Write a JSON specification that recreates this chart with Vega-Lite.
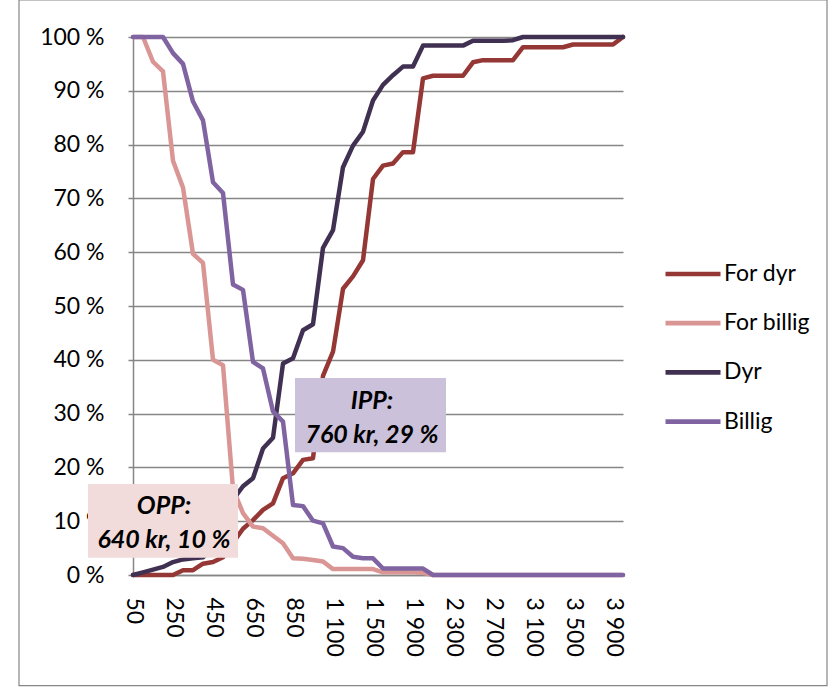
{
  "$schema": "https://vega.github.io/schema/vega-lite/v6.json",
  "width": 490,
  "height": 538,
  "autosize": {"type": "none"},
  "padding": {"left": 133, "top": 37, "right": 206, "bottom": 113},
  "background": "white",
  "config": {"view": {"stroke": null}, "font": "Lato"},
  "resolve": {"scale": {"x": "independent"}},
  "layer": [
    {
      "data": {"values": [{"ramme": "diagramomraade"}]},
      "mark": {"type": "rect", "fill": "transparent", "stroke": "#868686", "strokeWidth": 1.2},
      "encoding": {
        "x": {"datum": -11.4, "type": "quantitative", "scale": {"domain": [0, 49], "nice": false, "zero": false}, "axis": null},
        "x2": {"datum": 69.4},
        "y": {"datum": -20.55, "type": "quantitative", "title": null},
        "y2": {"datum": 106.9}
      }
    },
    {
      "data": {"values": [
        {"pris": "50", "For dyr": 0, "For billig": 100, "Dyr": 0, "Billig": 100},
        {"pris": "100", "For dyr": 0, "For billig": 100, "Dyr": 0.5, "Billig": 100},
        {"pris": "150", "For dyr": 0, "For billig": 95.4, "Dyr": 1.0, "Billig": 100},
        {"pris": "200", "For dyr": 0, "For billig": 93.6, "Dyr": 1.5, "Billig": 100},
        {"pris": "250", "For dyr": 0, "For billig": 77, "Dyr": 2.4, "Billig": 97},
        {"pris": "300", "For dyr": 0.9, "For billig": 72, "Dyr": 2.9, "Billig": 95},
        {"pris": "350", "For dyr": 0.9, "For billig": 59.7, "Dyr": 3.1, "Billig": 88},
        {"pris": "400", "For dyr": 2.1, "For billig": 58, "Dyr": 3.3, "Billig": 84.5},
        {"pris": "450", "For dyr": 2.4, "For billig": 40, "Dyr": 5, "Billig": 73},
        {"pris": "500", "For dyr": 3.3, "For billig": 39, "Dyr": 9, "Billig": 71},
        {"pris": "550", "For dyr": 6, "For billig": 16, "Dyr": 14, "Billig": 54},
        {"pris": "600", "For dyr": 8.6, "For billig": 11.5, "Dyr": 16.5, "Billig": 53},
        {"pris": "650", "For dyr": 10.2, "For billig": 9, "Dyr": 18, "Billig": 39.6},
        {"pris": "700", "For dyr": 12.1, "For billig": 8.7, "Dyr": 23.5, "Billig": 38.4},
        {"pris": "750", "For dyr": 13.3, "For billig": 7.3, "Dyr": 25.5, "Billig": 30.4},
        {"pris": "800", "For dyr": 18, "For billig": 5.9, "Dyr": 39.3, "Billig": 28.5},
        {"pris": "850", "For dyr": 18.9, "For billig": 3.1, "Dyr": 40.3, "Billig": 13},
        {"pris": "900", "For dyr": 21.4, "For billig": 3.0, "Dyr": 45.5, "Billig": 12.8},
        {"pris": "950", "For dyr": 21.7, "For billig": 2.8, "Dyr": 46.6, "Billig": 10.1},
        {"pris": "1 000", "For dyr": 37, "For billig": 2.5, "Dyr": 60.8, "Billig": 9.6},
        {"pris": "1 100", "For dyr": 41.5, "For billig": 1.1, "Dyr": 64.1, "Billig": 5.3},
        {"pris": "1 200", "For dyr": 53.2, "For billig": 1.1, "Dyr": 75.8, "Billig": 5.0},
        {"pris": "1 300", "For dyr": 55.5, "For billig": 1.1, "Dyr": 79.8, "Billig": 3.4},
        {"pris": "1 400", "For dyr": 58.5, "For billig": 1.1, "Dyr": 82.4, "Billig": 3.1},
        {"pris": "1 500", "For dyr": 73.6, "For billig": 1.1, "Dyr": 88.2, "Billig": 3.1},
        {"pris": "1 600", "For dyr": 76.1, "For billig": 0.5, "Dyr": 91.1, "Billig": 1.2},
        {"pris": "1 700", "For dyr": 76.5, "For billig": 0.5, "Dyr": 92.9, "Billig": 1.2},
        {"pris": "1 800", "For dyr": 78.6, "For billig": 0.5, "Dyr": 94.5, "Billig": 1.2},
        {"pris": "1 900", "For dyr": 78.6, "For billig": 0.5, "Dyr": 94.5, "Billig": 1.2},
        {"pris": "2 000", "For dyr": 92.3, "For billig": 0.4, "Dyr": 98.4, "Billig": 1.2},
        {"pris": "2 100", "For dyr": 92.8, "For billig": 0, "Dyr": 98.4, "Billig": 0},
        {"pris": "2 200", "For dyr": 92.8, "For billig": 0, "Dyr": 98.4, "Billig": 0},
        {"pris": "2 300", "For dyr": 92.8, "For billig": 0, "Dyr": 98.4, "Billig": 0},
        {"pris": "2 400", "For dyr": 92.8, "For billig": 0, "Dyr": 98.4, "Billig": 0},
        {"pris": "2 500", "For dyr": 95.3, "For billig": 0, "Dyr": 99.3, "Billig": 0},
        {"pris": "2 600", "For dyr": 95.7, "For billig": 0, "Dyr": 99.3, "Billig": 0},
        {"pris": "2 700", "For dyr": 95.7, "For billig": 0, "Dyr": 99.3, "Billig": 0},
        {"pris": "2 800", "For dyr": 95.7, "For billig": 0, "Dyr": 99.3, "Billig": 0},
        {"pris": "2 900", "For dyr": 95.7, "For billig": 0, "Dyr": 99.4, "Billig": 0},
        {"pris": "3 000", "For dyr": 98.1, "For billig": 0, "Dyr": 100, "Billig": 0},
        {"pris": "3 100", "For dyr": 98.1, "For billig": 0, "Dyr": 100, "Billig": 0},
        {"pris": "3 200", "For dyr": 98.1, "For billig": 0, "Dyr": 100, "Billig": 0},
        {"pris": "3 300", "For dyr": 98.1, "For billig": 0, "Dyr": 100, "Billig": 0},
        {"pris": "3 400", "For dyr": 98.1, "For billig": 0, "Dyr": 100, "Billig": 0},
        {"pris": "3 500", "For dyr": 98.6, "For billig": 0, "Dyr": 100, "Billig": 0},
        {"pris": "3 600", "For dyr": 98.6, "For billig": 0, "Dyr": 100, "Billig": 0},
        {"pris": "3 700", "For dyr": 98.6, "For billig": 0, "Dyr": 100, "Billig": 0},
        {"pris": "3 800", "For dyr": 98.6, "For billig": 0, "Dyr": 100, "Billig": 0},
        {"pris": "3 900", "For dyr": 98.6, "For billig": 0, "Dyr": 100, "Billig": 0},
        {"pris": "4 000", "For dyr": 100, "For billig": 0, "Dyr": 100, "Billig": 0}
      ]},
      "transform": [{"fold": ["For dyr", "For billig", "Dyr", "Billig"], "as": ["serie", "andel"]}],
      "mark": {"type": "line", "strokeWidth": 4.5, "strokeJoin": "round", "strokeCap": "round"},
      "encoding": {
        "x": {
          "field": "pris", "type": "ordinal", "sort": null,
          "scale": {"type": "point", "padding": 0},
          "axis": {
            "title": null,
            "values": ["50", "250", "450", "650", "850", "1 100", "1 500", "1 900", "2 300", "2 700", "3 100", "3 500", "3 900"],
            "labelAngle": 90, "labelAlign": "left", "labelBaseline": "middle",
            "ticks": false, "labelPadding": 22, "labelFontSize": 23, "labelFont": "Lato",
            "labelColor": "black", "domainColor": "#868686", "domainWidth": 1.5, "grid": false
          }
        },
        "y": {
          "field": "andel", "type": "quantitative",
          "scale": {"domain": [0, 100]},
          "axis": {
            "title": null,
            "values": [0, 10, 20, 30, 40, 50, 60, 70, 80, 90, 100],
            "labelExpr": "datum.value + ' %'",
            "tickSize": 5, "tickColor": "#868686", "tickWidth": 1.5,
            "labelPadding": 24, "labelFontSize": 23, "labelFont": "Lato", "labelColor": "black",
            "grid": true, "gridColor": "#868686", "gridWidth": 1.5,
            "domainColor": "#868686", "domainWidth": 1.5
          }
        },
        "color": {
          "field": "serie", "type": "nominal",
          "scale": {"domain": ["For dyr", "For billig", "Dyr", "Billig"], "range": ["#953735", "#D99694", "#403152", "#8064A2"]},
          "legend": {
            "title": null, "orient": "none", "legendX": 530, "legendY": 207, "padding": 0,
            "symbolType": "stroke", "symbolSize": 3025, "symbolStrokeWidth": 4.7,
            "labelFontSize": 23, "labelFont": "Lato", "labelColor": "black", "labelOffset": 1,
            "rowPadding": 7.2
          }
        }
      }
    },
    {
      "data": {"values": [
        {"punkt": "OPP", "fra": -4.5, "til": 10.5, "nede": 3.2, "oppe": 16.9},
        {"punkt": "IPP", "fra": 16.2, "til": 31.3, "nede": 22.8, "oppe": 36.6}
      ]},
      "mark": {"type": "rect"},
      "encoding": {
        "x": {"field": "fra", "type": "quantitative", "scale": {"domain": [0, 49], "nice": false, "zero": false}, "axis": null},
        "x2": {"field": "til"},
        "y": {"field": "nede", "type": "quantitative", "title": null},
        "y2": {"field": "oppe"},
        "fill": {"field": "punkt", "type": "nominal", "scale": {"domain": ["OPP", "IPP"], "range": ["#F2DCDB", "#CCC1DA"]}, "legend": null}
      }
    },
    {
      "data": {"values": [
        {"punkt": "OPP", "midt": 3.1, "nivaa": 12.8, "tekst": ["OPP:", "640 kr, 10 %"]},
        {"punkt": "IPP", "midt": 23.9, "nivaa": 32.3, "tekst": ["IPP:", "760 kr, 29 %"]}
      ]},
      "mark": {"type": "text", "font": "Lato", "fontSize": 25, "fontWeight": "bold", "fontStyle": "italic", "align": "center", "baseline": "middle", "lineHeight": 34, "color": "black"},
      "encoding": {
        "x": {"field": "midt", "type": "quantitative", "scale": {"domain": [0, 49], "nice": false, "zero": false}, "axis": null},
        "y": {"field": "nivaa", "type": "quantitative", "title": null},
        "text": {"field": "tekst"}
      }
    }
  ]
}
